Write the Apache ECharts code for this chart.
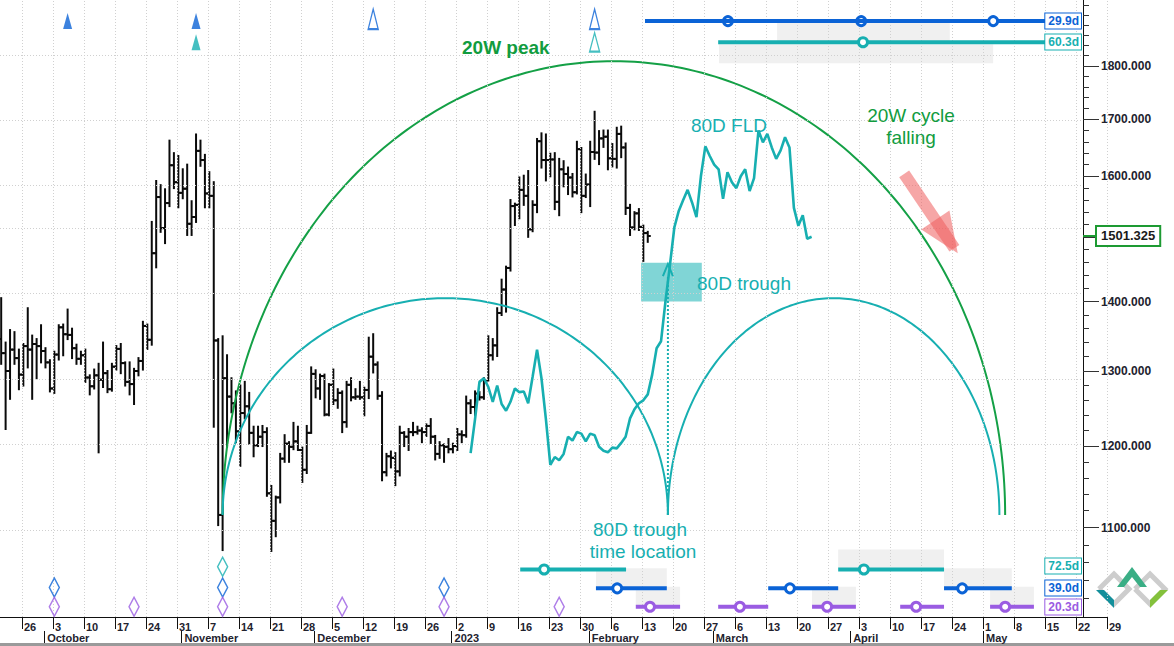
<!DOCTYPE html>
<html>
<head>
<meta charset="utf-8">
<title>ETH cycle chart</title>
<script src="https://cdn.jsdelivr.net/npm/echarts@6.0.0/dist/echarts.min.js"></script>
<style>
html,body{margin:0;padding:0;background:#fff;overflow:hidden;}
#chart{width:1174px;height:646px;}
</style>
</head>
<body>
<div id="chart"></div>
<script>
// ================= DATA =================
// daily OHLC bars, one per calendar day starting at barStartDate
const barStartDate = '2022-09-21';
const opens = [
1345,1325,1300,1330,1318,1295,1335,1330,1338,1335,1328,1312,1276,1323,1362,1352,1351,1332,1317,1322,
1291,1279,1294,1288,1297,1275,1306,1331,1311,1285,1282,1300,1314,1364,1344,1474,1565,1514,1555,1619,
1590,1572,1579,1521,1532,1644,1628,1571,1567,1343,1115,1290,1265,1256,1219,1243,1252,1217,1201,1212,
1218,1141,1108,1136,1184,1203,1199,1206,1195,1170,1217,1296,1276,1293,1241,1281,1260,1270,1231,1281,
1264,1265,1264,1274,1320,1309,1266,1167,1187,1185,1168,1217,1212,1218,1218,1220,1218,1226,1212,1190,
1201,1199,1196,1200,1215,1214,1256,1251,1269,1264,1287,1322,1336,1383,1418,1451,1550,1552,1577,1567,
1512,1552,1661,1628,1628,1629,1557,1612,1604,1598,1573,1647,1567,1586,1642,1641,1666,1669,1631,1630,
1674,1650,1547,1515,1538,1516,1506];
const highs = [
1405,1340,1358,1355,1330,1338,1390,1350,1345,1365,1332,1315,1327,1365,1366,1388,1360,1337,1327,1330,
1294,1302,1310,1340,1300,1310,1335,1338,1312,1312,1303,1318,1370,1366,1524,1592,1585,1578,1662,1640,
1635,1612,1620,1558,1673,1662,1637,1607,1590,1345,1349,1322,1290,1272,1280,1285,1270,1225,1225,1226,
1223,1150,1137,1190,1214,1205,1230,1225,1198,1226,1305,1301,1295,1295,1282,1302,1275,1272,1285,1290,
1275,1285,1277,1347,1352,1312,1271,1190,1193,1191,1225,1218,1222,1230,1225,1223,1228,1235,1213,1205,
1202,1209,1203,1222,1219,1265,1260,1272,1271,1290,1349,1345,1390,1433,1453,1560,1554,1598,1601,1609,
1558,1665,1675,1673,1639,1640,1630,1626,1615,1604,1660,1649,1603,1660,1714,1679,1680,1680,1656,1685,
1687,1657,1552,1540,1545,1518,1508];
const lows = [
1310,1222,1262,1310,1275,1280,1305,1262,1290,1312,1305,1272,1270,1316,1322,1345,1318,1310,1310,1285,
1268,1276,1192,1278,1271,1273,1302,1297,1280,1268,1255,1294,1302,1331,1337,1452,1508,1490,1550,1580,
1548,1563,1503,1503,1524,1618,1548,1548,1225,1103,1074,1199,1244,1205,1175,1236,1203,1187,1200,1200,
1138,1073,1090,1130,1180,1180,1196,1195,1155,1166,1217,1264,1262,1240,1240,1255,1250,1218,1225,1260,
1262,1262,1240,1263,1298,1262,1157,1163,1173,1151,1163,1200,1195,1214,1216,1205,1213,1204,1183,1185,
1180,1192,1192,1195,1205,1212,1243,1240,1261,1262,1287,1316,1321,1380,1385,1447,1519,1530,1552,1500,
1509,1540,1615,1593,1600,1545,1535,1583,1570,1566,1571,1540,1565,1550,1630,1621,1651,1612,1617,1615,
1633,1537,1503,1512,1511,1462,1492];
const closes = [
1325,1300,1330,1318,1295,1335,1330,1338,1335,1328,1312,1276,1323,1362,1352,1351,1332,1317,1322,1291,
1279,1294,1288,1297,1275,1306,1331,1311,1285,1282,1300,1314,1364,1344,1474,1565,1514,1555,1619,1590,
1572,1579,1521,1532,1644,1628,1571,1567,1343,1115,1290,1265,1256,1219,1243,1252,1217,1201,1212,1218,
1141,1108,1136,1184,1203,1199,1206,1195,1170,1217,1296,1276,1293,1241,1281,1260,1270,1231,1281,1264,
1265,1264,1274,1320,1309,1266,1167,1187,1185,1168,1217,1212,1218,1218,1220,1218,1226,1212,1190,1201,
1199,1196,1200,1215,1214,1256,1251,1269,1264,1287,1322,1336,1383,1418,1451,1550,1552,1577,1567,1512,
1552,1661,1628,1628,1629,1557,1612,1604,1598,1573,1647,1567,1586,1642,1641,1666,1669,1631,1630,1674,
1650,1547,1515,1538,1516,1506,1501.325];

// 80-day FLD, one value per calendar day starting at fldStartDate
const fldStartDate = '2023-01-05';
const fldValues = [
1191,1235,1285,1290,1278,1258,1280,1255,1246,1258,1276,1271,1272,1256,1292,1330,1290,1235,1176,1186,
1182,1190,1212,1207,1218,1216,1206,
1216,1214,1199,1194,1192,1198,1197,1204,1212,1236,1248,1256,1260,1268,1295,1332,1342,1400,1455,1515,
1542,1560,1577,1556,1532,1600,1652,1635,
1620,1612,1562,1607,1590,1580,1600,1612,1575,1597,1680,1659,1674,1650,1630,1645,1668,1650,1547,1518,
1535,1497,1500];

const priceTicks = [1100, 1200, 1300, 1400, 1500, 1600, 1700, 1800];
const priceLabels = [1100, 1200, 1300, 1400, 1600, 1700, 1800];
const minorPriceTicks = [1020,1040,1060,1080,1120,1140,1160,1180,1220,1240,1260,1280,1320,1340,1360,1380,
  1420,1440,1460,1480,1520,1540,1560,1580,1620,1640,1660,1680,1720,1740,1760,1780,1820,1840,1860,1880,1900,1920];
const lastPrice = 1501.325;
const firstWeekTick = '2022-09-26';
const lastWeekTick = '2023-05-29';
const monthStarts = ['2022-10-01','2022-11-01','2022-12-01','2023-01-01','2023-02-01','2023-03-01','2023-04-01','2023-05-01'];

// cycle envelopes: [startDay, endDay, basePrice, peakPrice]  (days counted from 2023-01-30)
const envelope20W = [[-80.7, 96.0, 1115, 1809]];
const envelope80D = [[-80.7, 19.85, 1115, 1405], [19.85, 94.7, 1115, 1405]];

// 80D trough zone: [startDay, endDay, lowPrice, highPrice]
const troughBox = [[13.8, 27.5, 1400, 1459]];
// 80D trough time location marker: [day, basePrice, topPrice]
const troughLine = [[19.85, 1115, 1437]];
// "20W cycle falling" arrow: [fromDay, fromPrice, toDay, toPrice]
const fallArrow = [[73.2, 1604, 85.3, 1474]];

// cycle peak markers (triangles) and trough markers (diamonds)
const peaksBlueFilled = ['2022-10-06', '2022-11-04'];
const peaksTealFilled = ['2022-11-04'];
const peaksBlueHollow = ['2022-12-14', '2023-02-02'];
const peaksTealHollow = ['2023-02-02'];
const troughsTeal = ['2022-11-10'];
const troughsBlue = ['2022-10-03', '2022-11-10', '2022-12-30'];
const troughsPurple = ['2022-10-03', '2022-10-21', '2022-11-10', '2022-12-07', '2022-12-30', '2023-01-25'];

// projected cycle time bands: [startDay, endDay, centreDay]   (days from 2023-01-30)
const bandsTopBlue = [[14.7, 105.7, 33.4], [14.7, 105.7, 63.5], [14.7, 105.7, 93.3]];
const bandsTopTeal = [[31.2, 105.7, 63.9]];
const bandsBotTeal = [[-13.5, 10.4, -8.1], [58.3, 82.2, 64.1]];
const bandsBotBlue = [[3.6, 19.6, 8.4], [42.5, 58.3, 47.4], [82.2, 97.5, 86.3]];
const bandsBotPurple = [[12.6, 22.6, 15.8], [31.2, 42.5, 36.1], [52.4, 62.3, 55.8], [72.3, 82.2, 75.9], [92.6, 102.5, 96.0]];
// shaded uncertainty zones: [startDay, endDay]
const shadeTopBlue = [[44.5, 83.5]];
const shadeTopTeal = [[31.4, 93.3]];
const shadeBotTeal = [[58.3, 82.2]];
const shadeBotBlue = [[3.6, 19.6], [82.2, 97.5]];
const shadeBotPurple = [[12.6, 22.6], [52.4, 62.3], [92.6, 102.5]];
const cycleLengths = {topBlue: '29.9d', topTeal: '60.3d', botTeal: '72.5d', botBlue: '39.0d', botPurple: '20.3d'};

// ================= HELPERS =================
const REF_UTC = Date.UTC(2023, 0, 30);
const DAY_MS = 86400000;
const dayOf = s => { const p = s.split('-').map(Number); return Math.round((Date.UTC(p[0], p[1] - 1, p[2]) - REF_UTC) / DAY_MS); };
const dateOf = n => new Date(REF_UTC + Math.round(n) * DAY_MS);
const lg = v => Math.log10(v);
const BAR_SHIFT = 0.3;
const MONTHS = ['January','February','March','April','May','June','July','August','September','October','November','December'];

const BLUE = '#0b63d6', TEAL = '#17afb1', PURPLE = '#9a5ce2', GREEN = '#14a046', AXIS_TXT = '#22222e';
const FONT = '"Liberation Sans", Arial, sans-serif';

// row price levels used for the marker lanes
const ROW = {topBlue: 1888, topTeal: 1846, botTeal: 1052, botBlue: 1031, botPurple: 1011};

const PX_PER_DAY = 31 / 7;
const X_MIN = -580 / PX_PER_DAY;
const X_MAX_MAIN = X_MIN + 1083 / PX_PER_DAY;
const X_MAX_DATE = dayOf(lastWeekTick);
const Y_MIN = 3, Y_MAX = 3 + 617 / 2159;

const weekTicks = [];
for (let d = dayOf(firstWeekTick); d <= dayOf(lastWeekTick); d += 7) weekTicks.push(d);

const s0 = dayOf(barStartDate);
const ohlcData = opens.map((o, i) => [s0 + i + BAR_SHIFT, lg(o), lg(highs[i]), lg(lows[i]), lg(closes[i])]);
const f0 = dayOf(fldStartDate);
const fldData = fldValues.map((v, i) => [f0 + i + BAR_SHIFT, lg(v)]);

function renderOHLC(params, api) {
  const x = api.value(0);
  const pO = api.coord([x, api.value(1)]);
  const pH = api.coord([x, api.value(2)]);
  const pL = api.coord([x, api.value(3)]);
  const pC = api.coord([x, api.value(4)]);
  const cx = pH[0];
  const st = {stroke: '#0a0a0a', lineWidth: 2};
  return {type: 'group', children: [
    {type: 'line', shape: {x1: cx, y1: pH[1] - 1, x2: cx, y2: pL[1] + 1}, style: st},
    {type: 'line', shape: {x1: cx - 3, y1: pO[1], x2: cx, y2: pO[1]}, style: st},
    {type: 'line', shape: {x1: cx, y1: pC[1], x2: cx + 3, y2: pC[1]}, style: st}
  ]};
}
function arcRenderer(color) {
  return function (params, api) {
    const a0 = api.value(0), a1 = api.value(1), base = lg(api.value(2)), peak = lg(api.value(3));
    const s = api.coord([a0, base]), e = api.coord([a1, base]), t = api.coord([(a0 + a1) / 2, peak]);
    const cx = (s[0] + e[0]) / 2, rx = (e[0] - s[0]) / 2, cy = s[1], ry = cy - t[1];
    const pts = [];
    for (let k = 0; k <= 180; k++) {
      const th = Math.PI * (1 - k / 180);
      pts.push([cx + rx * Math.cos(th), cy - ry * Math.sin(th)]);
    }
    return {type: 'polyline', shape: {points: pts}, style: {stroke: color, fill: 'none', lineWidth: 2}};
  };
}
function shadeRenderer(rowPrice, dir) {
  return function (params, api) {
    const p1 = api.coord([api.value(0), lg(rowPrice)]);
    const p2 = api.coord([api.value(1), lg(rowPrice)]);
    const y0 = dir > 0 ? p1[1] + 2 : p1[1] - 20;
    return {type: 'rect', shape: {x: p1[0], y: y0, width: p2[0] - p1[0], height: 19}, style: {fill: '#f0f0f0'}};
  };
}
function bandRenderer(rowPrice, color) {
  return function (params, api) {
    const p1 = api.coord([api.value(0), lg(rowPrice)]);
    const p2 = api.coord([api.value(1), lg(rowPrice)]);
    const pc = api.coord([api.value(2), lg(rowPrice)]);
    return {type: 'group', children: [
      {type: 'line', shape: {x1: p1[0], y1: p1[1], x2: p2[0], y2: p2[1]}, style: {stroke: color, lineWidth: 4}},
      {type: 'circle', shape: {cx: pc[0], cy: pc[1], r: 4.5}, style: {fill: '#fff', stroke: color, lineWidth: 3}}
    ]};
  };
}
function shadeSeries(data, rowPrice, dir) {
  return {type: 'custom', xAxisIndex: 0, yAxisIndex: 0, z: 1, silent: true, clip: false,
    renderItem: shadeRenderer(rowPrice, dir), data: data};
}
function bandSeries(data, rowPrice, color) {
  return {type: 'custom', xAxisIndex: 0, yAxisIndex: 0, z: 6, silent: true, clip: false,
    renderItem: bandRenderer(rowPrice, color), data: data};
}
function markerSeries(dates, rowPrice, symbol, size, color, hollow, z) {
  return {type: 'scatter', xAxisIndex: 0, yAxisIndex: 0, z: z || 6, silent: true,
    symbol: symbol, symbolSize: size,
    itemStyle: hollow ? {color: 'rgba(255,255,255,0)', borderColor: color, borderWidth: 1.6} : {color: color},
    data: dates.map(d => [dayOf(d) + BAR_SHIFT, lg(rowPrice)])};
}

const monthDays = monthStarts.map(dayOf);

const option = {
  animation: false,
  backgroundColor: '#ffffff',
  grid: [
    {left: 0, right: 91, top: 0, bottom: 29},
    {left: 0, right: 67, top: 0, bottom: 29}
  ],
  xAxis: [
    {gridIndex: 0, type: 'value', min: X_MIN, max: X_MAX_MAIN,
      axisLine: {show: false}, axisTick: {show: false}, axisLabel: {show: false}, splitLine: {show: false}},
    {gridIndex: 1, type: 'value', min: X_MIN, max: X_MAX_DATE, position: 'bottom',
      axisLine: {show: true, onZero: false, lineStyle: {color: '#111', width: 1}},
      axisTick: {show: true, customValues: weekTicks, length: 12, lineStyle: {color: '#111'}},
      axisLabel: {show: true, customValues: weekTicks, margin: 4, align: 'left', padding: [0, 0, 0, 2], color: AXIS_TXT,
        fontFamily: FONT, fontWeight: 'bold', fontSize: 11,
        formatter: v => String(dateOf(v).getUTCDate())},
      splitLine: {show: false}},
    {gridIndex: 1, type: 'value', min: X_MIN, max: X_MAX_DATE, position: 'bottom', offset: 14,
      axisLine: {show: false, onZero: false},
      axisTick: {show: true, customValues: monthDays, length: 12, lineStyle: {color: '#111'}},
      axisLabel: {show: true, customValues: monthDays, margin: 1, align: 'left', padding: [0, 0, 0, 3],
        color: AXIS_TXT, fontFamily: FONT, fontWeight: 'bold', fontSize: 11,
        formatter: v => { const d = dateOf(v); return d.getUTCMonth() === 0 ? String(d.getUTCFullYear()) : MONTHS[d.getUTCMonth()]; }},
      splitLine: {show: false}}
  ],
  yAxis: [
    {gridIndex: 0, type: 'value', min: Y_MIN, max: Y_MAX, position: 'right',
      axisLine: {show: true, onZero: false, lineStyle: {color: '#111', width: 1}},
      axisTick: {show: true, customValues: priceTicks.map(lg), length: 16, lineStyle: {color: '#333'}},
      axisLabel: {show: true, customValues: priceLabels.map(lg), margin: 18, color: AXIS_TXT,
        fontFamily: FONT, fontWeight: 'bold', fontSize: 12, formatter: v => Math.pow(10, v).toFixed(3)},
      splitLine: {show: false}},
    {gridIndex: 0, type: 'value', min: Y_MIN, max: Y_MAX, position: 'right',
      axisLine: {show: false, onZero: false},
      axisTick: {show: true, customValues: minorPriceTicks.map(lg), length: 6, lineStyle: {color: '#333'}},
      axisLabel: {show: false}, splitLine: {show: false}},
    {gridIndex: 0, type: 'value', min: Y_MIN, max: Y_MAX, position: 'right', z: 10,
      axisLine: {show: false, onZero: false},
      axisTick: {show: true, customValues: [lg(lastPrice)], length: 14, lineStyle: {color: '#1d9a32', width: 2}},
      axisLabel: {show: true, customValues: [lg(lastPrice)], margin: 14, color: '#1a1a1a',
        fontFamily: FONT, fontWeight: 'bold', fontSize: 13, backgroundColor: '#fff',
        borderColor: '#1d9a32', borderWidth: 2, padding: [3, 4, 2, 4],
        formatter: () => lastPrice.toFixed(3)},
      splitLine: {show: false}},
    {gridIndex: 1, type: 'value', min: 0, max: 1, show: false}
  ],
  series: [
    // weekly vertical grid (spans under the price scale too)
    {type: 'line', xAxisIndex: 1, yAxisIndex: 3, z: 0, silent: true, data: [[X_MIN, 0]],
      showSymbol: false, lineStyle: {opacity: 0},
      markLine: {silent: true, symbol: ['none', 'none'], label: {show: false},
        lineStyle: {color: '#d0d0d0', type: [1, 2], width: 1},
        data: weekTicks.map(d => ({xAxis: d}))}},
    // horizontal price grid
    {type: 'line', xAxisIndex: 0, yAxisIndex: 0, z: 0, silent: true, data: [[X_MIN, Y_MIN]],
      showSymbol: false, lineStyle: {opacity: 0},
      markLine: {silent: true, symbol: ['none', 'none'], label: {show: false},
        lineStyle: {color: '#d0d0d0', type: [1, 2], width: 1},
        data: priceTicks.map(p => ({yAxis: lg(p)}))}},
    // shaded zones
    shadeSeries(shadeTopBlue, ROW.topBlue, 1),
    shadeSeries(shadeTopTeal, ROW.topTeal, 1),
    shadeSeries(shadeBotTeal, ROW.botTeal, -1),
    shadeSeries(shadeBotBlue, ROW.botBlue, -1),
    shadeSeries(shadeBotPurple, ROW.botPurple, -1),
    // 80D trough box
    {type: 'custom', xAxisIndex: 0, yAxisIndex: 0, z: 2, silent: true, data: troughBox,
      renderItem: (params, api) => {
        const a = api.coord([api.value(0), lg(api.value(3))]);
        const b = api.coord([api.value(1), lg(api.value(2))]);
        return {type: 'rect', shape: {x: a[0], y: a[1], width: b[0] - a[0], height: b[1] - a[1]}, style: {fill: '#80d5d6'}};
      }},
    // price bars
    {type: 'custom', name: 'price', xAxisIndex: 0, yAxisIndex: 0, z: 3, silent: true,
      renderItem: renderOHLC, data: ohlcData},
    // cycle envelopes
    {type: 'custom', xAxisIndex: 0, yAxisIndex: 0, z: 4, silent: true, clip: false,
      renderItem: arcRenderer(GREEN), data: envelope20W},
    {type: 'custom', xAxisIndex: 0, yAxisIndex: 0, z: 4, silent: true, clip: false,
      renderItem: arcRenderer(TEAL), data: envelope80D},
    // FLD
    {type: 'line', name: '80D FLD', xAxisIndex: 0, yAxisIndex: 0, z: 5, silent: true,
      data: fldData, showSymbol: false, lineStyle: {color: TEAL, width: 2.6}},
    // trough time location dotted line + arrow
    {type: 'custom', xAxisIndex: 0, yAxisIndex: 0, z: 5, silent: true, data: troughLine,
      renderItem: (params, api) => {
        const b = api.coord([api.value(0), lg(api.value(1))]);
        const t = api.coord([api.value(0), lg(api.value(2))]);
        return {type: 'group', children: [
          {type: 'line', shape: {x1: b[0], y1: b[1], x2: t[0], y2: t[1]}, style: {stroke: TEAL, lineWidth: 2, lineDash: [2, 2]}},
          {type: 'polyline', shape: {points: [[t[0] - 5, t[1] - 1], [t[0], t[1] - 13], [t[0] + 5, t[1] - 1]]},
            style: {stroke: TEAL, lineWidth: 2, fill: 'none'}}
        ]};
      }},
    // falling arrow
    {type: 'custom', xAxisIndex: 0, yAxisIndex: 0, z: 7, silent: true, data: fallArrow,
      renderItem: (params, api) => {
        const p0 = api.coord([api.value(0), lg(api.value(1))]);
        const p1 = api.coord([api.value(2), lg(api.value(3))]);
        const dx = p1[0] - p0[0], dy = p1[1] - p0[1], len = Math.hypot(dx, dy);
        const ux = dx / len, uy = dy / len, nx = -uy, ny = ux;
        const hl = 40, hw = 17, sw = 6;
        const bx = p1[0] - ux * hl, by = p1[1] - uy * hl;
        const ex = p1[0] - ux * 6, ey = p1[1] - uy * 6;
        const col = 'rgba(238,92,92,0.55)';
        return {type: 'group', children: [
          {type: 'polygon', shape: {points: [[p0[0] + nx * sw, p0[1] + ny * sw], [ex + nx * sw, ey + ny * sw], [ex - nx * sw, ey - ny * sw], [p0[0] - nx * sw, p0[1] - ny * sw]]},
            style: {fill: col}},
          {type: 'polygon', shape: {points: [[bx + nx * hw, by + ny * hw], [p1[0], p1[1]], [bx - nx * hw, by - ny * hw]]},
            style: {fill: col}}
        ]};
      }},
    // cycle time bands
    bandSeries(bandsTopBlue, ROW.topBlue, BLUE),
    bandSeries(bandsTopTeal, ROW.topTeal, TEAL),
    bandSeries(bandsBotTeal, ROW.botTeal, TEAL),
    bandSeries(bandsBotBlue, ROW.botBlue, BLUE),
    bandSeries(bandsBotPurple, ROW.botPurple, PURPLE),
    // peak / trough markers
    markerSeries(peaksBlueFilled, ROW.topBlue, 'triangle', [9, 16], BLUE, false),
    markerSeries(peaksTealFilled, ROW.topTeal, 'triangle', [9, 16], TEAL, false),
    markerSeries(peaksBlueHollow, ROW.topBlue + 4, 'triangle', [10, 20], BLUE, true),
    markerSeries(peaksTealHollow, ROW.topTeal, 'triangle', [10, 19], TEAL, true),
    markerSeries(troughsTeal, ROW.botTeal + 3, 'diamond', [10, 19], TEAL, true),
    markerSeries(troughsBlue, ROW.botBlue + 1, 'diamond', [10, 19], BLUE, true),
    markerSeries(troughsPurple, ROW.botPurple, 'diamond', [10, 19], PURPLE, true)
  ],
  graphic: [
    {type: 'text', x: 462, y: 47, z: 100, silent: true, style: {text: '20W peak', font: 'bold 19px ' + FONT, fill: '#119c3e', align: 'left', verticalAlign: 'middle'}},
    {type: 'text', x: 729, y: 125, z: 100, silent: true, style: {text: '80D FLD', font: '19px ' + FONT, fill: TEAL, align: 'center', verticalAlign: 'middle'}},
    {type: 'text', x: 911, y: 115, z: 100, silent: true, style: {text: '20W cycle', font: '19px ' + FONT, fill: '#119c3e', align: 'center', verticalAlign: 'middle'}},
    {type: 'text', x: 911, y: 137, z: 100, silent: true, style: {text: 'falling', font: '19px ' + FONT, fill: '#119c3e', align: 'center', verticalAlign: 'middle'}},
    {type: 'text', x: 697, y: 283, z: 100, silent: true, style: {text: '80D trough', font: '19px ' + FONT, fill: TEAL, align: 'left', verticalAlign: 'middle'}},
    {type: 'text', x: 640, y: 529, z: 100, silent: true, style: {text: '80D trough', font: '19px ' + FONT, fill: TEAL, align: 'center', verticalAlign: 'middle'}},
    {type: 'text', x: 643, y: 551, z: 100, silent: true, style: {text: 'time location', font: '19px ' + FONT, fill: TEAL, align: 'center', verticalAlign: 'middle'}},
    // cycle length labels
    {type: 'text', x: 1081, y: 21, silent: true, z: 100, style: {text: cycleLengths.topBlue, font: 'bold 12px ' + FONT, fill: BLUE, align: 'right', verticalAlign: 'middle', backgroundColor: '#fff', borderColor: BLUE, borderWidth: 1, padding: [2, 2, 1, 3]}},
    {type: 'text', x: 1081, y: 42, silent: true, z: 100, style: {text: cycleLengths.topTeal, font: 'bold 12px ' + FONT, fill: TEAL, align: 'right', verticalAlign: 'middle', backgroundColor: '#fff', borderColor: TEAL, borderWidth: 1, padding: [2, 2, 1, 3]}},
    {type: 'text', x: 1081, y: 566, silent: true, z: 100, style: {text: cycleLengths.botTeal, font: 'bold 12px ' + FONT, fill: TEAL, align: 'right', verticalAlign: 'middle', backgroundColor: '#fff', borderColor: TEAL, borderWidth: 1, padding: [2, 2, 1, 3]}},
    {type: 'text', x: 1081, y: 588, silent: true, z: 100, style: {text: cycleLengths.botBlue, font: 'bold 12px ' + FONT, fill: BLUE, align: 'right', verticalAlign: 'middle', backgroundColor: '#fff', borderColor: BLUE, borderWidth: 1, padding: [2, 2, 1, 3]}},
    {type: 'text', x: 1081, y: 607, silent: true, z: 100, style: {text: cycleLengths.botPurple, font: 'bold 12px ' + FONT, fill: PURPLE, align: 'right', verticalAlign: 'middle', backgroundColor: '#fff', borderColor: PURPLE, borderWidth: 1, padding: [2, 2, 1, 3]}},
    // bottom border
    {type: 'rect', left: 0, top: 643, silent: true, shape: {width: 1174, height: 3}, style: {fill: '#9a9a9a'}},
    // logo
    {type: 'group', x: 1095, y: 565, silent: true, children: [
      {type: 'polyline', shape: {points: [[4, 24], [19, 9], [34, 24], [19, 39], [4, 24]]}, style: {stroke: '#cdcdcd', lineWidth: 5, fill: 'none'}},
      {type: 'polyline', shape: {points: [[40, 24], [55, 9], [70, 24], [55, 39], [40, 24]]}, style: {stroke: '#cdcdcd', lineWidth: 5, fill: 'none'}},
      {type: 'polygon', shape: {points: [[1, 25], [9, 25], [19, 35], [19, 43]]}, style: {fill: '#138f9b'}},
      {type: 'polygon', shape: {points: [[22, 22], [37, 2], [52, 22], [45, 22], [37, 12], [29, 22]]}, style: {fill: '#3aae85'}},
      {type: 'polygon', shape: {points: [[55, 35], [65, 25], [73, 25], [55, 43]]}, style: {fill: '#84c13c'}}
    ]}
  ]
};

const chart = echarts.init(document.getElementById('chart'), null, {renderer: 'svg', width: 1174, height: 646});
chart.setOption(option);
</script>
</body>
</html>
